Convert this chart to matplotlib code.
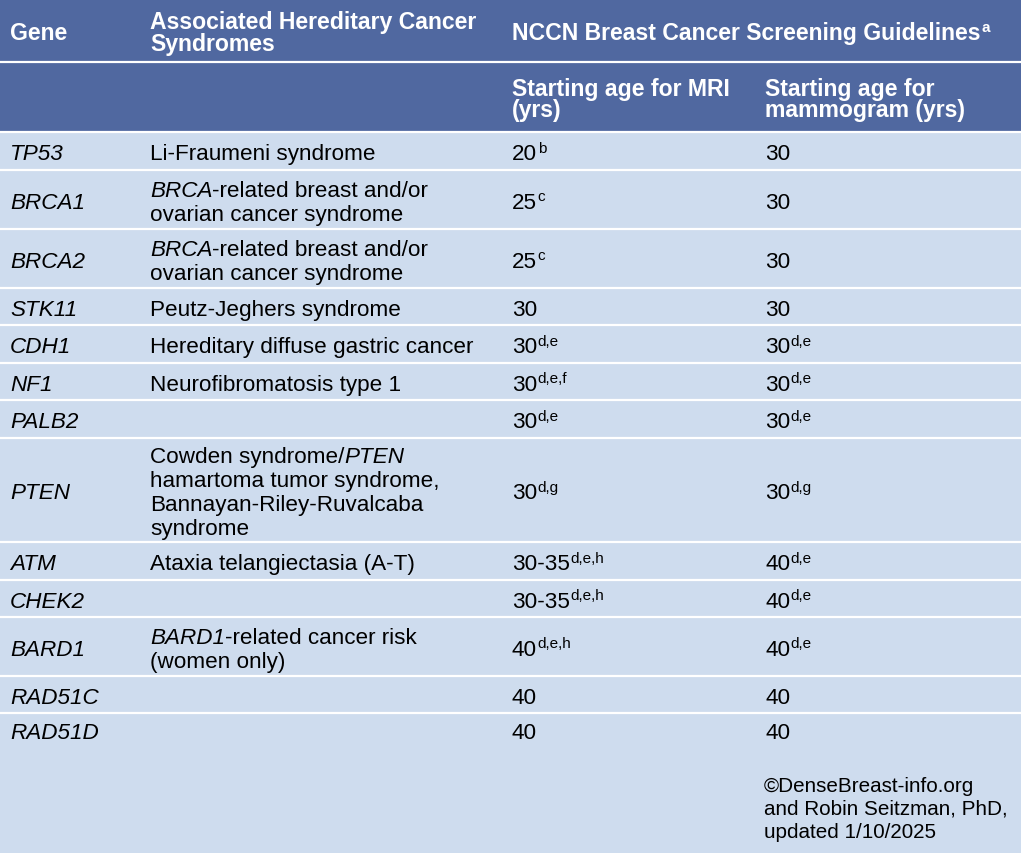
import matplotlib
matplotlib.use("Agg")
import matplotlib.pyplot as plt
from matplotlib.patches import Rectangle
from matplotlib.font_manager import FontProperties

# ---------------- data ----------------
header_top = ["Gene", "Associated Hereditary Cancer\nSyndromes",
              "NCCN Breast Cancer Screening Guidelines"]
header_top_note = "a"
header_sub = ["Starting age for MRI\n(yrs)", "Starting age for\nmammogram (yrs)"]

genes = ["TP53", "BRCA1", "BRCA2", "STK11", "CDH1", "NF1", "PALB2", "PTEN",
         "ATM", "CHEK2", "BARD1", "RAD51C", "RAD51D"]
syndromes = [
    "Li-Fraumeni syndrome",
    "*BRCA*-related breast and/or\novarian cancer syndrome",
    "*BRCA*-related breast and/or\novarian cancer syndrome",
    "Peutz-Jeghers syndrome",
    "Hereditary diffuse gastric cancer",
    "Neurofibromatosis type 1",
    "",
    "Cowden syndrome/*PTEN*\nhamartoma tumor syndrome,\nBannayan-Riley-Ruvalcaba\nsyndrome",
    "Ataxia telangiectasia (A-T)",
    "",
    "*BARD1*-related cancer risk\n(women only)",
    "",
    "",
]
mri_ages = ["20", "25", "25", "30", "30", "30", "30", "30", "30-35", "30-35", "40", "40", "40"]
mri_notes = ["b", "c", "c", "", "d,e", "d,e,f", "d,e", "d,g", "d,e,h", "d,e,h", "d,e,h", "", ""]
mammo_ages = ["30", "30", "30", "30", "30", "30", "30", "30", "40", "40", "40", "40", "40"]
mammo_notes = ["", "", "", "", "d,e", "d,e", "d,e", "d,g", "d,e", "d,e", "d,e", "", ""]
credit = "©DenseBreast-info.org\nand Robin Seitzman, PhD,\nupdated 1/10/2025"

# ---------------- layout ----------------
W, H = 1024, 854
row_edges = [0, 63, 133, 171, 230, 289, 326, 364, 401, 439, 543, 581, 618, 677, 714, 854]
col_x = [10, 150, 512, 765]
table_right = 1021
HEAD = "#5068A0"
BODY = "#CEDCEE"
FS = 16.2
FS_HEAD = 16.6
SUP = 11.0
LS_DATA = 24.0
LS_HEAD = 21.5
FAMILY = ["Liberation Sans", "DejaVu Sans"]

plt.rcParams["font.family"] = FAMILY
fig = plt.figure(figsize=(W / 100, H / 100), dpi=100)
ax = fig.add_axes([0, 0, 1, 1])
ax.set_xlim(0, W)
ax.set_ylim(H, 0)
ax.axis("off")
fig.canvas.draw()
renderer = fig.canvas.get_renderer()


def text_w(txt, size, weight, style):
    fp = FontProperties(family=FAMILY, size=size, weight=weight, style=style)
    w, h, d = renderer.get_text_width_height_descent(txt, fp, ismath=False)
    return w


def draw_runs(x, yb, runs, color="black", weight="normal", size=FS):
    for txt, style in runs:
        if not txt:
            continue
        if style == "sup":
            sz = SUP
            ax.text(x + 0.5, yb - 7.5, txt, fontsize=sz, color=color, weight=weight,
                    va="baseline", ha="left")
            x += text_w(txt, sz, weight, "normal")
        else:
            st = "italic" if style == "i" else "normal"
            ax.text(x, yb, txt, fontsize=size, color=color, weight=weight, style=st,
                    va="baseline", ha="left")
            x += text_w(txt, size, weight, st)
    return x


def parse_line(line):
    parts = line.split("*")
    return [(p, "i" if k % 2 else "n") for k, p in enumerate(parts)]


def baselines(n, top, bot, ls, size):
    cap = 0.716 * size * 100 / 72
    c = (top + bot) / 2
    last = c + (n - 1) * ls / 2 + cap / 2
    return [last - (n - 1 - i) * ls for i in range(n)]


# backgrounds
for i in range(len(row_edges) - 1):
    top, bot = row_edges[i], row_edges[i + 1]
    ax.add_patch(Rectangle((0, top), table_right, bot - top,
                           facecolor=HEAD if i < 2 else BODY, edgecolor="none"))
for e in row_edges[1:-1]:
    ax.plot([0, table_right], [e, e], color="white", lw=1.6, solid_capstyle="butt")

# header row 1
top, bot = row_edges[0], row_edges[1]
for j, txt in enumerate(header_top):
    lines = txt.split("\n")
    ys = baselines(len(lines), top, bot, LS_HEAD, FS_HEAD)
    for ln, yb in zip(lines, ys):
        runs = [(ln, "n")]
        if j == 2:
            runs.append((header_top_note, "sup"))
        draw_runs(col_x[j], yb, runs, color="white", weight="bold", size=FS_HEAD)

# header row 2
top, bot = row_edges[1], row_edges[2]
for j, txt in enumerate(header_sub):
    lines = txt.split("\n")
    ys = baselines(len(lines), top, bot, LS_HEAD, FS_HEAD)
    for ln, yb in zip(lines, ys):
        draw_runs(col_x[2 + j], yb, [(ln, "n")], color="white", weight="bold", size=FS_HEAD)

# body
for r in range(len(genes)):
    top, bot = row_edges[r + 2], row_edges[r + 3]
    if r == len(genes) - 1:
        bot = top + 34  # last row text sits at its top
    yb1 = baselines(1, top, bot, LS_DATA, FS)[0]
    draw_runs(col_x[0], yb1, [(genes[r], "i")])
    if syndromes[r]:
        lines = syndromes[r].split("\n")
        ys = baselines(len(lines), top, bot, LS_DATA, FS)
        for ln, yb in zip(lines, ys):
            draw_runs(col_x[1], yb, parse_line(ln))
    draw_runs(col_x[2], yb1, [(mri_ages[r], "n"), (mri_notes[r], "sup")])
    draw_runs(col_x[3], yb1, [(mammo_ages[r], "n"), (mammo_notes[r], "sup")])

# credit
for k, ln in enumerate(credit.split("\n")):
    ax.text(col_x[3] - 1, 792 + k * 23, ln, fontsize=14.9, va="baseline", ha="left")

fig.savefig("out.png", dpi=100, facecolor="white")
